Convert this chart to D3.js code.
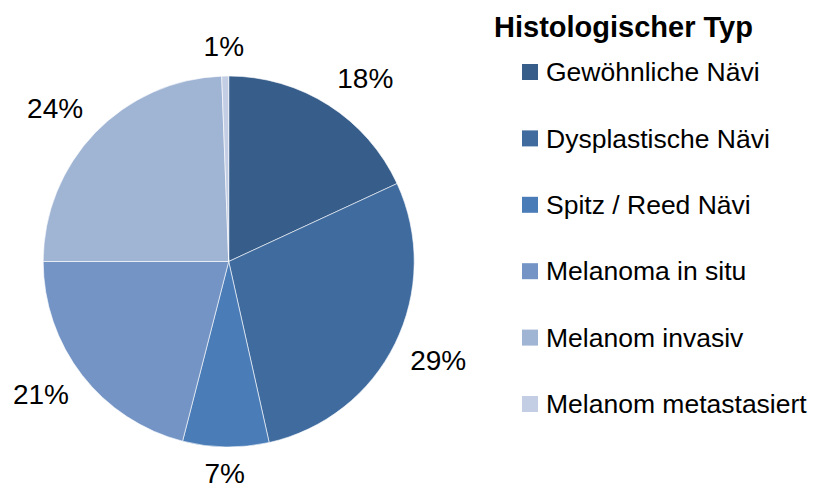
<!DOCTYPE html>
<html>
<head>
<meta charset="utf-8">
<script src="https://cdn.jsdelivr.net/npm/d3@7"></script>
<style>
  body { margin: 0; background: #fff; }
  text { font-family: "Liberation Sans", Arial, sans-serif; }
</style>
</head>
<body>
<div id="chart"></div>
<script>
// data
var categories = ["Gewöhnliche Nävi", "Dysplastische Nävi", "Spitz / Reed Nävi",
    "Melanoma in situ", "Melanom invasiv", "Melanom metastasiert"];
var values = [18.1, 28.4, 7.5, 21.0, 24.4, 0.6];
var percentLabels = ["18%", "29%", "7%", "21%", "24%", "1%"];
var colors = ["#375d8a", "#3f6b9f", "#4a7cb7", "#7394c5", "#a0b4d4", "#c3cde3"];

var width = 813, height = 490;
var cx = 228.7, cy = 261.5, radius = 185.5;

var svg = d3.select("#chart")
    .append("svg")
    .attr("width", width)
    .attr("height", height);

var data = categories.map(function (c, i) {
    return {name: c, value: values[i], label: percentLabels[i], color: colors[i]};
});

var pie = d3.pie()
    .value(function (d) { return d.value; })
    .sort(null);

var arcs = pie(data);

var arc = d3.arc()
    .innerRadius(0)
    .outerRadius(radius);

var g = svg.append("g")
    .attr("transform", "translate(" + cx + "," + cy + ")");

g.selectAll("path")
    .data(arcs)
    .enter()
    .append("path")
    .attr("d", arc)
    .attr("fill", function (d) { return d.data.color; })
    .style("stroke", "#ffffff")
    .style("stroke-width", "0.6");

// outside-end labels: anchor on a ring, then shift the text box away from the pie
var gap = 18;
var labelW = 54, labelH = 20;
var clamp = function (v) { return Math.max(-1, Math.min(1, v)); };
function labelPos(d) {
    var a = (d.startAngle + d.endAngle) / 2;
    var sx = Math.sin(a), sy = -Math.cos(a);
    var w = d.data.label.length > 2 ? labelW : labelW * 0.7;
    return [sx * (radius + gap) + clamp(sx * 3) * w / 2,
        sy * (radius + gap) + clamp(sy * 3) * labelH / 2];
}

g.selectAll("text.pct")
    .data(arcs)
    .enter()
    .append("text")
    .attr("class", "pct")
    .attr("x", function (d) { return labelPos(d)[0]; })
    .attr("y", function (d) { return labelPos(d)[1] + 8; })
    .attr("text-anchor", "middle")
    .style("font-size", "28px")
    .style("fill", "#000")
    .text(function (d) { return d.data.label; });

// legend
svg.append("text")
    .attr("x", 494)
    .attr("y", 37)
    .style("font-size", "29px")
    .style("font-weight", "bold")
    .text("Histologischer Typ");

var legend = svg.append("g")
    .attr("transform", "translate(522,0)");

var y = d3.scalePoint()
    .domain(categories)
    .range([72, 404]);

var item = legend.selectAll("g")
    .data(data)
    .enter()
    .append("g")
    .attr("transform", function (d) { return "translate(0," + y(d.name) + ")"; });

item.append("rect")
    .attr("x", 0)
    .attr("y", -8)
    .attr("width", 16)
    .attr("height", 16)
    .attr("fill", function (d) { return d.color; });

item.append("text")
    .attr("x", 24)
    .attr("y", 0)
    .attr("dy", "0.35em")
    .style("font-size", "26.5px")
    .text(function (d) { return d.name; });
</script>
</body>
</html>
